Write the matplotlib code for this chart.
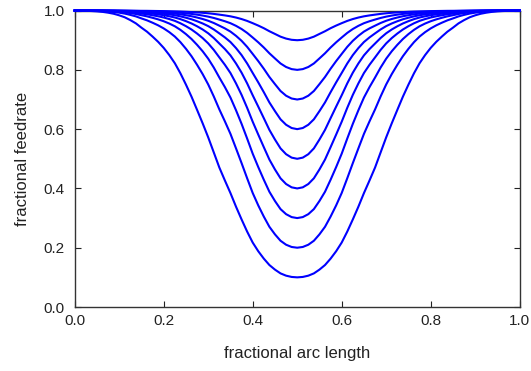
import matplotlib
matplotlib.use('Agg')
from matplotlib import pyplot as plt

'''Fractional feedrate along the arc, one curve per minimum feedrate'''

# left half of each curve (x = 0 .. 0.5, step 0.0125); the curves are symmetric about x = 0.5
arc_half = [0.0, 0.0125, 0.025, 0.0375, 0.05, 0.0625, 0.075, 0.0875, 0.1, 0.1125, 0.125,
            0.1375, 0.15, 0.1625, 0.175, 0.1875, 0.2, 0.2125, 0.225, 0.2375, 0.25,
            0.2625, 0.275, 0.2875, 0.3, 0.3125, 0.325, 0.3375, 0.35, 0.3625, 0.375,
            0.3875, 0.4, 0.4125, 0.425, 0.4375, 0.45, 0.4625, 0.475, 0.4875, 0.5]

feed_01 = [1.0, 0.9996, 0.9991, 0.9985, 0.9973, 0.9956, 0.9929, 0.9893, 0.984, 0.9773, 0.9678,
           0.9568, 0.9423, 0.9287, 0.9122, 0.8945, 0.8741, 0.85, 0.8224, 0.7885, 0.7502,
           0.7095, 0.6649, 0.6197, 0.5724, 0.5216, 0.4706, 0.4268, 0.3843, 0.3384, 0.2954,
           0.2544, 0.2174, 0.1881, 0.1631, 0.1416, 0.1261, 0.1134, 0.1057, 0.1014, 0.1]
feed_02 = [1.0, 0.9998, 0.9996, 0.9993, 0.9988, 0.998, 0.9968, 0.9952, 0.9929, 0.9898, 0.9854,
           0.9804, 0.9735, 0.967, 0.959, 0.9502, 0.9398, 0.9273, 0.9124, 0.8935, 0.8711,
           0.846, 0.817, 0.7857, 0.7508, 0.7104, 0.6667, 0.6263, 0.5841, 0.5351, 0.4854,
           0.4343, 0.3846, 0.3427, 0.3049, 0.2706, 0.2451, 0.2235, 0.2101, 0.2025, 0.2]
feed_03 = [1.0, 0.9999, 0.9998, 0.9996, 0.9993, 0.9989, 0.9981, 0.9972, 0.9958, 0.994, 0.9915,
           0.9884, 0.9844, 0.9805, 0.9756, 0.9703, 0.964, 0.9563, 0.947, 0.935, 0.9206,
           0.904, 0.8844, 0.8627, 0.8377, 0.8079, 0.7742, 0.7418, 0.7066, 0.6637, 0.6179,
           0.5683, 0.5172, 0.472, 0.4292, 0.3888, 0.3576, 0.3303, 0.3132, 0.3033, 0.3]
feed_04 = [1.0, 0.9999, 0.9998, 0.9997, 0.9995, 0.9993, 0.9988, 0.9982, 0.9973, 0.9961, 0.9944,
           0.9926, 0.9899, 0.9874, 0.9842, 0.9807, 0.9766, 0.9714, 0.9653, 0.9572, 0.9474,
           0.9361, 0.9225, 0.9072, 0.8893, 0.8674, 0.8421, 0.8171, 0.7893, 0.7543, 0.7156,
           0.6719, 0.625, 0.5816, 0.5391, 0.4974, 0.464, 0.4342, 0.4149, 0.4037, 0.4]
feed_05 = [1.0, 1.0, 0.9999, 0.9998, 0.9997, 0.9995, 0.9992, 0.9988, 0.9982, 0.9974, 0.9963,
           0.995, 0.9932, 0.9915, 0.9894, 0.9871, 0.9843, 0.9808, 0.9766, 0.9711, 0.9643,
           0.9565, 0.947, 0.9362, 0.9234, 0.9075, 0.8889, 0.8702, 0.8489, 0.8216, 0.7905,
           0.7544, 0.7143, 0.6759, 0.6369, 0.5975, 0.565, 0.5351, 0.5155, 0.5039, 0.5]
feed_06 = [1.0, 1.0, 0.9999, 0.9999, 0.9998, 0.9997, 0.9995, 0.9992, 0.9988, 0.9983, 0.9975,
           0.9967, 0.9955, 0.9943, 0.9929, 0.9914, 0.9894, 0.9871, 0.9843, 0.9805, 0.9759,
           0.9706, 0.964, 0.9565, 0.9476, 0.9364, 0.9231, 0.9095, 0.8939, 0.8735, 0.8498,
           0.8216, 0.7895, 0.7577, 0.7246, 0.6901, 0.6608, 0.6332, 0.6148, 0.6038, 0.6]
feed_07 = [1.0, 1.0, 1.0, 0.9999, 0.9999, 0.9998, 0.9997, 0.9995, 0.9992, 0.9989, 0.9984,
           0.9979, 0.9971, 0.9963, 0.9954, 0.9944, 0.9931, 0.9917, 0.9898, 0.9874, 0.9843,
           0.9809, 0.9766, 0.9716, 0.9656, 0.9581, 0.9491, 0.9399, 0.9291, 0.9148, 0.898,
           0.8776, 0.8537, 0.8295, 0.8037, 0.776, 0.7519, 0.7287, 0.7128, 0.7033, 0.7]
feed_08 = [1.0, 1.0, 1.0, 1.0, 0.9999, 0.9999, 0.9998, 0.9997, 0.9995, 0.9994, 0.9991,
           0.9987, 0.9983, 0.9979, 0.9973, 0.9967, 0.996, 0.9951, 0.994, 0.9926, 0.9908,
           0.9887, 0.9862, 0.9832, 0.9796, 0.9751, 0.9697, 0.964, 0.9574, 0.9485, 0.9378,
           0.9247, 0.9091, 0.8929, 0.8753, 0.8559, 0.8386, 0.8216, 0.8097, 0.8025, 0.8]
feed_09 = [1.0, 1.0, 1.0, 1.0, 1.0, 0.9999, 0.9999, 0.9999, 0.9998, 0.9997, 0.9996,
           0.9994, 0.9992, 0.9991, 0.9988, 0.9985, 0.9982, 0.9978, 0.9973, 0.9967, 0.9959,
           0.9949, 0.9938, 0.9925, 0.9909, 0.9888, 0.9863, 0.9837, 0.9806, 0.9765, 0.9714,
           0.9651, 0.9575, 0.9494, 0.9405, 0.9303, 0.9212, 0.912, 0.9055, 0.9014, 0.9]

curves = [feed_01, feed_02, feed_03, feed_04, feed_05, feed_06, feed_07, feed_08, feed_09]

x_ticks = [0.0, 0.2, 0.4, 0.6, 0.8, 1.0]
y_ticks = [0.0, 0.2, 0.4, 0.6, 0.8, 1.0]


def mirror(half):
    # right half is the left half reflected about the centre point
    return half + half[-2::-1]


arc = arc_half + [1.0 - v for v in arc_half[-2::-1]]

plt.rcParams['font.family'] = ['Liberation Sans', 'DejaVu Sans']
fig = plt.figure(figsize=(5.31, 3.71), dpi=100)
ax = fig.add_axes([0.1407, 0.1725, 0.838, 0.799])

for feed in curves:
    ax.plot(arc, mirror(feed), color='#0000ff', lw=1.5, clip_on=False, zorder=3,
            solid_joinstyle='round')

ax.set_xlim(0, 1)
ax.set_ylim(0, 1)
ax.set_xticks(x_ticks)
ax.set_yticks(y_ticks)
ax.set_xticklabels(['%.1f' % v for v in x_ticks])
ax.set_yticklabels(['%.1f' % v for v in y_ticks])
ax.tick_params(direction='in', top=True, right=True, length=4, width=0.8,
               labelsize=11, colors='#222222', labelcolor='#222222')
ax.tick_params(axis='x', pad=5)
ax.tick_params(axis='y', pad=7)
for sp in ax.spines.values():
    sp.set_color('#333333')
    sp.set_linewidth(1.0)

ax.set_xlabel('fractional arc length', fontsize=12, color='#222222', labelpad=13)
ax.set_ylabel('fractional feedrate', fontsize=12, color='#222222', labelpad=10)

fig.savefig('out.png', dpi=100)
